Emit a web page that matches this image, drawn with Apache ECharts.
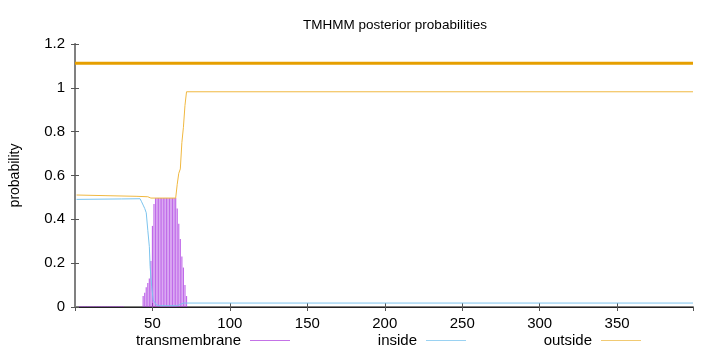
<!DOCTYPE html>
<html><head><meta charset="utf-8">
<script src="https://cdn.jsdelivr.net/npm/echarts@6/dist/echarts.min.js"></script>
<style>html,body{margin:0;padding:0;background:#fff}#c{width:720px;height:352px}</style>
</head><body><div id="c"></div>
<script>
// [position, probability]
const transmembrane = [
  [3,0.003],[4,0.003],[5,0.003],[6,0.003],[7,0.003],[8,0.003],[9,0.003],[10,0.003],[11,0.003],[12,0.003],
  [13,0.003],[14,0.003],[15,0.003],[16,0.003],[17,0.003],[18,0.003],[19,0.003],[20,0.003],[21,0.003],[22,0.003],
  [23,0.003],[24,0.003],[25,0.003],[26,0.003],[27,0.003],[28,0.003],[29,0.003],[30,0.003],[31,0.003],
  [44,0.05],[45,0.065],[46,0.09],[47,0.11],[48,0.13],[49,0.21],[50,0.37],[51,0.47],
  [52,0.497],[53,0.497],[54,0.497],[55,0.497],[56,0.497],[57,0.497],[58,0.497],[59,0.497],[60,0.497],
  [61,0.497],[62,0.497],[63,0.497],[64,0.497],[65,0.497],
  [66,0.45],[67,0.38],[68,0.31],[69,0.23],[70,0.18],[71,0.10],[72,0.05]
];
const inside = [
  [1,0.491],[30,0.493],[42,0.494],[43,0.48],[44,0.465],[45,0.45],[46,0.43],[47,0.35],[48,0.275],
  [48.5,0.184],[49.5,0.093],[50.5,0.032],[52.5,0.009],[55,0.006],[66,0.006],[68,0.012],[70,0.018],[399,0.018]
];
const outside = [
  [1,0.511],[20,0.508],[40,0.505],[47,0.503],[49,0.497],[65,0.497],[66,0.56],[67,0.61],[68,0.63],
  [69,0.75],[70,0.82],[71,0.92],[72,0.982],[399,0.982]
];
const topology = [[0,1.112],[399,1.112]];
const xTicks = [50,100,150,200,250,300,350];
const yTicks = [0,0.2,0.4,0.6,0.8,1,1.2];

const purple = '#9400d3', blue = '#56b4e9', orange = '#e69f00';
const font = 'Liberation Sans, Arial, sans-serif';
const chart = echarts.init(document.getElementById('c'), null, {renderer:'canvas'});
function legendFor(name, color, right) {
  return {
    data:[{name:name, icon:'rect', itemStyle:{color:color}}],
    right:right, top:333, padding:0, align:'right',
    itemWidth:40, itemHeight:1, selectedMode:false,
    textStyle:{fontFamily:font, fontSize:15, color:'#000', padding:[0,4,0,0]}
  };
}
chart.setOption({
  animation:false,
  title:{text:'TMHMM posterior probabilities', left:390, textAlign:'center', top:13,
    textStyle:{fontFamily:font, fontSize:13.5, fontWeight:'normal', color:'#000'}},
  grid:{left:73, right:27, top:44, bottom:45},
  legend:[legendFor('transmembrane', 'rgba(148,0,211,0.55)', 430),
          legendFor('inside', 'rgba(86,180,233,0.6)', 254),
          legendFor('outside', 'rgba(230,159,0,0.55)', 79)],
  xAxis:[{type:'value', min:0, max:399, interval:50, position:'bottom',
      axisLine:{lineStyle:{color:'#808080', width:2}},
      axisTick:{inside:true, length:4, lineStyle:{color:'#555'}},
      axisLabel:{showMinLabel:false, showMaxLabel:false, margin:9, fontFamily:font, fontSize:15, color:'#000',
        formatter:v => xTicks.includes(v) ? String(v) : ''},
      splitLine:{show:false}},
    {type:'value', min:0, max:399, interval:50, position:'top',
      axisLine:{lineStyle:{color:'#222', width:1}},
      axisTick:{inside:true, length:4, lineStyle:{color:'#555'}},
      axisLabel:{show:false}, splitLine:{show:false}}],
  yAxis:[{type:'value', min:0, max:1.2, interval:0.2, position:'left',
      name:'probability', nameLocation:'middle', nameGap:53, nameRotate:90,
      nameTextStyle:{fontFamily:font, fontSize:14, color:'#000'},
      axisLine:{show:true, lineStyle:{color:'#222', width:1}},
      axisTick:{show:true, inside:true, length:4, lineStyle:{color:'#555'}},
      axisLabel:{margin:10, fontFamily:font, fontSize:15, color:'#000',
        formatter:v => { const t = yTicks.find(y => Math.abs(y - v) < 1e-6); return t === undefined ? '' : String(t); }},
      splitLine:{show:false}},
    {type:'value', min:0, max:1.2, interval:0.2, position:'right',
      axisLine:{show:true, lineStyle:{color:'#808080', width:2}},
      axisTick:{show:true, inside:true, length:4, lineStyle:{color:'#555'}},
      axisLabel:{show:false}, splitLine:{show:false}}],
  series:[
    {name:'transmembrane', type:'bar', data:transmembrane, barWidth:1.2,
      itemStyle:{color:'rgba(168,50,225,0.72)'}, xAxisIndex:0, yAxisIndex:0, z:2},
    {name:'inside', type:'line', data:inside, showSymbol:false, symbol:'none',
      lineStyle:{color:'#7cc4ee', width:1}, itemStyle:{color:blue}, z:3},
    {name:'outside', type:'line', data:outside, showSymbol:false, symbol:'none',
      lineStyle:{color:'#f0b840', width:1}, itemStyle:{color:orange}, z:3},
    {name:'topology', type:'line', data:topology, showSymbol:false, symbol:'none',
      lineStyle:{color:orange, width:3}, z:4}
  ]
});
</script></body></html>
